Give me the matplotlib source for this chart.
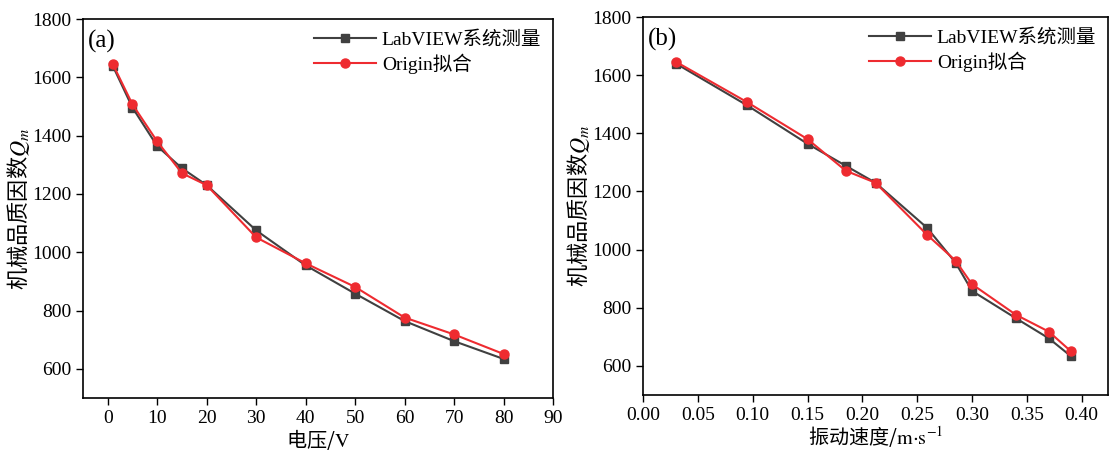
import matplotlib
matplotlib.use("Agg")
import matplotlib.pyplot as plt

plt.rcParams['font.family'] = ['Liberation Serif', 'Noto Sans CJK SC']
plt.rcParams['mathtext.fontset'] = 'stix'

voltage = [1, 5, 10, 15, 20, 30, 40, 50, 60, 70, 80]
velocity = [0.03, 0.095, 0.15, 0.185, 0.212, 0.259, 0.285, 0.30, 0.34, 0.37, 0.39]
qm_labview = [1640, 1496, 1364, 1288, 1230, 1075, 955, 858, 764, 695, 634]
qm_origin = [1646, 1507, 1380, 1271, 1230, 1051, 962, 881, 776, 718, 651]

labels = ['LabVIEW系统测量', 'Origin拟合']
black = '#404040'
red = '#ee2b30'
cjk = 'Noto Sans CJK SC'

fig = plt.figure(figsize=(11.1, 4.51), dpi=100)
ax1 = fig.add_axes([83/1110, 1-398/451, 470/1110, 379/451])
ax2 = fig.add_axes([643/1110, 1-395/451, 465/1110, 378/451])

def draw(ax, x, xlabel, tag):
    ax.plot(x, qm_labview, color=black, marker='s', markersize=6, lw=1.5, label=labels[0])
    ax.plot(x, qm_origin, color=red, marker='o', markersize=6.5, lw=1.5, label=labels[1])
    ax.set_ylim(500, 1800)
    ax.set_yticks([600, 800, 1000, 1200, 1400, 1600, 1800])
    ax.tick_params(direction='out', labelsize=14, length=5, width=1)
    for s in ax.spines.values():
        s.set_linewidth(1.2)
    ax.set_xlabel(xlabel, fontsize=14.5, labelpad=0, family=cjk)
    ax.set_ylabel('机械品质因数$Q_m$', fontsize=16, labelpad=0, family=cjk)
    ax.text(0.01, 0.97, tag, transform=ax.transAxes, fontsize=18, va='top', ha='left')
    ax.legend(loc='upper right', frameon=False, fontsize=14, handlelength=3.2,
              borderaxespad=0.2, handletextpad=0.3, labelspacing=0.25)

draw(ax1, voltage, r'电压/$\mathrm{V}$', '(a)')
ax1.set_xlim(-5, 90)
ax1.set_xticks(range(0, 91, 10))

draw(ax2, velocity, r'振动速度/$\mathrm{m{\cdot}s^{-1}}$', '(b)')
ax2.set_xlim(0, 0.424)
ax2.set_xticks([i * 0.05 for i in range(9)])
ax2.set_xticklabels([f'{i*0.05:.2f}' for i in range(9)])

fig.savefig('out.png', dpi=100)
